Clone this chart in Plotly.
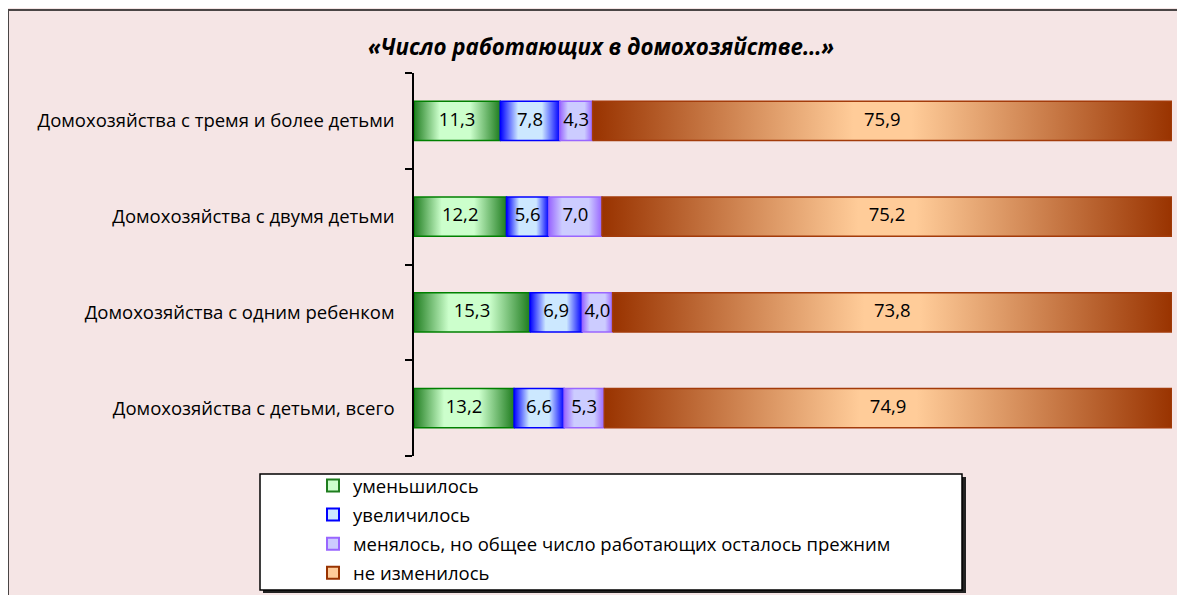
import plotly.graph_objects as go

# ---------------- data ----------------
categories = [
    "Домохозяйства с детьми, всего",
    "Домохозяйства с одним ребенком",
    "Домохозяйства с двумя детьми",
    "Домохозяйства с тремя и более детьми",
]
series_names = [
    "уменьшилось",
    "увеличилось",
    "менялось, но общее число работающих осталось прежним",
    "не изменилось",
]
decreased = [13.2, 15.3, 12.2, 11.3]
increased = [6.6, 6.9, 5.6, 7.8]
changed_same_total = [5.3, 4.0, 7.0, 4.3]
unchanged = [74.9, 73.8, 75.2, 75.9]
title_text = "«Число работающих в домохозяйстве…»"

series_values = [decreased, increased, changed_same_total, unchanged]

# ---------------- styles ----------------
OFF = 8                      # page body margin
W, H = 1185 - OFF, 595 - OFF
# plot area in reference-page pixels
PX_L, PX_R, PX_T, PX_B = 414, 1172, 73, 456
L, R, T, B = PX_L - OFF, W - (PX_R - OFF), PX_T - OFF, H - (PX_B - OFF)
PW, PH = W - L - R, H - T - B
BG = "#f5e5e5"
FONT = "Open Sans"
FS = 18.5

edge_colors = ["#1f7d1f", "#0000ff", "#9966ff", "#993300"]
center_colors = ["#ccffcc", "#cce8ff", "#ccccff", "#ffcc99"]
line_colors = ["#008000", "#0000ff", "#9966ff", "#a33b0a"]
light_span = [(0.3, 0.65), (0.3, 0.7), (0.25, 0.75), (0.45, 0.55)]
half_h = 0.205


def px_x(px):
    return (px - PX_L) / PW


def px_y(py):
    return (PX_B - py) / PH


fig = go.Figure()

n_cat = len(categories)
totals = [sum(s[i] for s in series_values) for i in range(n_cat)]

label_x, label_y, label_t = [], [], []
for k, (name, vals) in enumerate(zip(series_names, series_values)):
    a, b = light_span[k]
    cscale = [[0, edge_colors[k]], [a, center_colors[k]], [b, center_colors[k]], [1, edge_colors[k]]]
    for i in range(n_cat):
        start = sum(series_values[j][i] for j in range(k)) / totals[i] * 100
        stop = start + vals[i] / totals[i] * 100
        fig.add_trace(go.Scatter(
            x=[start, stop, stop, start, start],
            y=[i - half_h, i - half_h, i + half_h, i + half_h, i - half_h],
            mode="lines",
            fill="toself",
            fillcolor=center_colors[k],
            fillgradient=dict(type="horizontal", colorscale=cscale, start=start, stop=stop),
            line=dict(color=line_colors[k], width=1.5),
            name=name,
            legendgroup=name,
            showlegend=False,
            hoverinfo="skip",
        ))
        label_x.append((start + stop) / 2)
        label_y.append(i)
        label_t.append(f"{vals[i]:.1f}".replace(".", ","))
    # legend entry (square swatch)
    fig.add_trace(go.Bar(
        x=[None], y=[None], orientation="h", name=name, legendgroup=name,
        marker=dict(color=center_colors[k], line=dict(color=edge_colors[k], width=2)),
        showlegend=True, hoverinfo="skip",
    ))

fig.add_trace(go.Scatter(
    x=label_x, y=label_y, text=label_t, mode="text",
    textfont=dict(family=FONT, size=FS, color="black"),
    showlegend=False, hoverinfo="skip",
))

shapes = [
    # chart-area frame
    dict(type="rect", xref="paper", yref="paper",
         x0=px_x(8), x1=px_x(1220), y0=px_y(10), y1=px_y(640),
         line=dict(color="#4a4545", width=2), fillcolor="rgba(0,0,0,0)", layer="below"),
    # legend shadow
    dict(type="rect", xref="paper", yref="paper",
         x0=px_x(263), x1=px_x(966), y0=px_y(477), y1=px_y(593),
         line=dict(width=0), fillcolor="#222222", layer="above"),
    # legend box
    dict(type="rect", xref="paper", yref="paper",
         x0=px_x(260), x1=px_x(962), y0=px_y(474), y1=px_y(590),
         line=dict(color="black", width=1.5), fillcolor="white", layer="above"),
]

fig.update_layout(
    width=W, height=H,
    margin=dict(l=L, r=R, t=T, b=B, autoexpand=False),
    paper_bgcolor=BG, plot_bgcolor=BG,
    title=dict(text=f"<b><i>{title_text}</i></b>", x=(601 - OFF) / W, xanchor="center",
               y=1 - (47 - OFF) / H, yanchor="middle",
               font=dict(family=FONT, size=22.3, color="black")),
    font=dict(family=FONT, color="black"),
    xaxis=dict(range=[0, 100], visible=False, fixedrange=True),
    yaxis=dict(range=[-0.5, n_cat - 0.5], tickmode="array",
               tickvals=list(range(n_cat)), ticktext=categories,
               ticks="", showline=True, linecolor="black", linewidth=1.5,
               showgrid=False, zeroline=False, ticklabelstandoff=14,
               tickfont=dict(family=FONT, size=FS, color="black"),
               minor=dict(tickmode="array", tickvals=[i - 0.5 for i in range(n_cat + 1)],
                          ticks="outside", ticklen=7, tickcolor="black", tickwidth=1.5,
                          showgrid=False)),
    legend=dict(x=px_x(313), xanchor="left", y=px_y(467), yanchor="top",
                bgcolor="rgba(0,0,0,0)", borderwidth=0,
                font=dict(family=FONT, size=FS, color="black"),
                tracegroupgap=2, itemwidth=30, traceorder="grouped"),
    shapes=shapes,
    showlegend=True,
)

fig.write_html("out.html")
